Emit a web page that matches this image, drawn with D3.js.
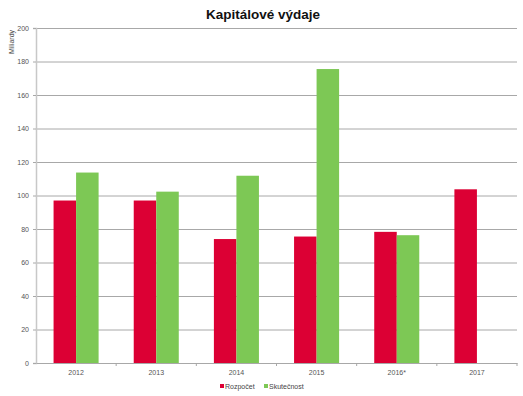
<!DOCTYPE html>
<html>
<head>
<meta charset="utf-8">
<script src="https://cdnjs.cloudflare.com/ajax/libs/d3/7.8.5/d3.min.js"></script>
<style>
  body { margin: 0; background: #fff; }
  text { font-family: "Liberation Sans", Arial, sans-serif; }
</style>
</head>
<body>
<div id="chart"></div>
<script>
var years = ["2012", "2013", "2014", "2015", "2016*", "2017"]
var rozpocet = [97, 97, 74, 75.5, 78.3, 103.7]
var skutecnost = [113.7, 102.3, 111.8, 175.5, 76.3, null]
var yTicks = [0, 20, 40, 60, 80, 100, 120, 140, 160, 180, 200]
var seriesNames = ["Rozpočet", "Skutečnost"]

var width = 523, height = 396
var margin = { top: 28, right: 6, bottom: 33, left: 36 }

var color = d3.scaleOrdinal()
  .domain(seriesNames)
  .range(["#dc0034", "#7dc855"])

var svg = d3.select("#chart").append("svg")
  .attr("width", width)
  .attr("height", height)

var x = d3.scaleBand()
  .domain(years)
  .range([margin.left, width - margin.right])

var x1 = d3.scaleBand()
  .domain(seriesNames)
  .range([0, x.bandwidth()])
  .paddingInner(0)
  .paddingOuter(0.78)

var y = d3.scaleLinear()
  .domain([0, 200])
  .range([height - margin.bottom, margin.top])

// gridlines
svg.append("g")
  .attr("transform", "translate(" + margin.left + ",0)")
  .call(d3.axisLeft(y).tickValues(yTicks).tickSize(-(width - margin.left - margin.right)).tickFormat(""))
  .call(function(g) {
    g.select(".domain").remove()
    g.selectAll("line").attr("stroke", "#a8a8a8")
  })

// y axis with labels
svg.append("g")
  .attr("transform", "translate(" + margin.left + ",0)")
  .call(d3.axisLeft(y).tickValues(yTicks).tickSize(3).tickPadding(4))
  .call(function(g) {
    g.select(".domain").attr("stroke", "#c8c8c8").attr("stroke-width", 1.5)
    g.selectAll("line").attr("stroke", "#a8a8a8")
    g.selectAll("text").attr("fill", "#555").style("font-size", "7px")
  })

// bars
var rows = years.map(function(yr, i) {
  return { year: yr, values: [
    { name: seriesNames[0], v: rozpocet[i] },
    { name: seriesNames[1], v: skutecnost[i] }
  ] }
})

svg.append("g").selectAll("g")
  .data(rows)
  .enter().append("g")
    .attr("transform", function(d) { return "translate(" + x(d.year) + ",0)" })
  .selectAll("rect")
  .data(function(d) { return d.values.filter(function(e) { return e.v != null }) })
  .enter().append("rect")
    .attr("x", function(d) { return x1(d.name) })
    .attr("width", x1.bandwidth())
    .attr("y", function(d) { return y(d.v) })
    .attr("height", function(d) { return y(0) - y(d.v) })
    .attr("fill", function(d) { return color(d.name) })

// x axis
svg.append("g")
  .attr("transform", "translate(0," + y(0) + ")")
  .call(d3.axisBottom(x).tickSize(0).tickPadding(7))
  .call(function(g) {
    g.select(".domain").attr("stroke", "#a8a8a8")
    g.selectAll("text").attr("fill", "#555").style("font-size", "7px")
  })

svg.append("g").selectAll("line")
  .data(years.slice(1).concat([null]))
  .enter().append("line")
    .attr("x1", function(d) { return d ? x(d) : width - margin.right })
    .attr("x2", function(d) { return d ? x(d) : width - margin.right })
    .attr("y1", y(0))
    .attr("y2", y(0) + 3)
    .attr("stroke", "#a8a8a8")

// title
svg.append("text")
  .attr("x", 263)
  .attr("y", 19)
  .attr("text-anchor", "middle")
  .style("font-size", "13.5px")
  .style("font-weight", "bold")
  .attr("fill", "#111")
  .text("Kapitálové výdaje")

svg.append("text")
  .attr("transform", "translate(14,42) rotate(-90)")
  .attr("text-anchor", "middle")
  .style("font-size", "7px")
  .attr("fill", "#444")
  .text("Miliardy")

// legend
var legend = svg.append("g")
  .attr("transform", "translate(220,388)")

var lx = [0, 44]
seriesNames.forEach(function(s, i) {
  legend.append("rect")
    .attr("x", lx[i])
    .attr("y", -4)
    .attr("width", 4)
    .attr("height", 4)
    .attr("fill", color(s))
  legend.append("text")
    .attr("x", lx[i] + 5)
    .attr("y", 1)
    .style("font-size", "7px")
    .attr("fill", "#444")
    .text(s)
})
</script>
</body>
</html>
